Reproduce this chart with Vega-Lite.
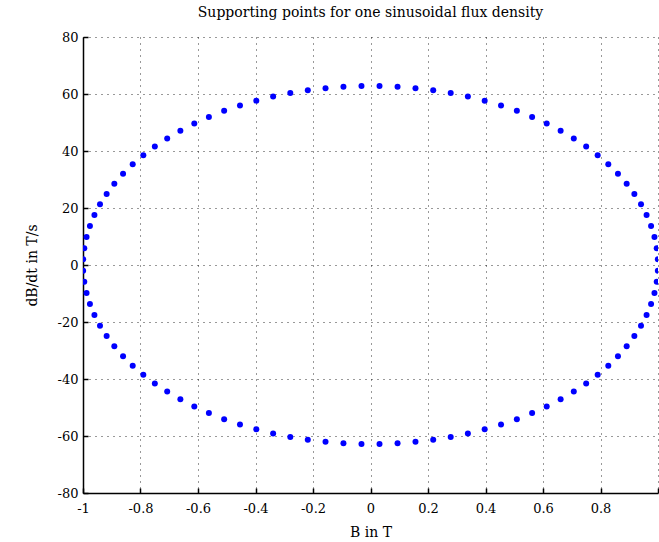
{
  "$schema": "https://vega.github.io/schema/vega-lite/v6.json",
  "width": 575,
  "height": 456,
  "autosize": {"type": "none"},
  "padding": {"left": 83, "top": 37, "right": 1, "bottom": 49},
  "background": "white",
  "config": {
    "view": {"stroke": null},
    "font": "DejaVu Serif"
  },
  "title": {
    "text": "Supporting points for one sinusoidal flux density",
    "font": "DejaVu Serif",
    "fontSize": 14,
    "fontWeight": "normal",
    "color": "#000",
    "offset": 11
  },
  "datasets": {
    "pts": [
      {"B": 0.99951, "dBdt": 1.974}, {"B": 0.99556, "dBdt": 5.913}, {"B": 0.98769, "dBdt": 9.829}, {"B": 0.97592, "dBdt": 13.706}, {"B": 0.96029, "dBdt": 17.529},
      {"B": 0.94088, "dBdt": 21.284}, {"B": 0.91775, "dBdt": 24.954}, {"B": 0.89101, "dBdt": 28.525}, {"B": 0.86074, "dBdt": 31.984}, {"B": 0.82708, "dBdt": 35.316},
      {"B": 0.79016, "dBdt": 38.51}, {"B": 0.75011, "dBdt": 41.551}, {"B": 0.70711, "dBdt": 44.429}, {"B": 0.66131, "dBdt": 47.131}, {"B": 0.61291, "dBdt": 49.647},
      {"B": 0.56208, "dBdt": 51.967}, {"B": 0.50904, "dBdt": 54.082}, {"B": 0.45399, "dBdt": 55.984}, {"B": 0.39715, "dBdt": 57.664}, {"B": 0.33874, "dBdt": 59.117},
      {"B": 0.27899, "dBdt": 60.337}, {"B": 0.21814, "dBdt": 61.319}, {"B": 0.15643, "dBdt": 62.059}, {"B": 0.09411, "dBdt": 62.553}, {"B": 0.03141, "dBdt": 62.801},
      {"B": -0.99951, "dBdt": 1.974}, {"B": -0.99556, "dBdt": 5.913}, {"B": -0.98769, "dBdt": 9.829}, {"B": -0.97592, "dBdt": 13.706}, {"B": -0.96029, "dBdt": 17.529},
      {"B": -0.94088, "dBdt": 21.284}, {"B": -0.91775, "dBdt": 24.954}, {"B": -0.89101, "dBdt": 28.525}, {"B": -0.86074, "dBdt": 31.984}, {"B": -0.82708, "dBdt": 35.316},
      {"B": -0.79016, "dBdt": 38.51}, {"B": -0.75011, "dBdt": 41.551}, {"B": -0.70711, "dBdt": 44.429}, {"B": -0.66131, "dBdt": 47.131}, {"B": -0.61291, "dBdt": 49.647},
      {"B": -0.56208, "dBdt": 51.967}, {"B": -0.50904, "dBdt": 54.082}, {"B": -0.45399, "dBdt": 55.984}, {"B": -0.39715, "dBdt": 57.664}, {"B": -0.33874, "dBdt": 59.117},
      {"B": -0.27899, "dBdt": 60.337}, {"B": -0.21814, "dBdt": 61.319}, {"B": -0.15643, "dBdt": 62.059}, {"B": -0.09411, "dBdt": 62.553}, {"B": -0.03141, "dBdt": 62.801},
      {"B": 0.99951, "dBdt": -1.974}, {"B": 0.99556, "dBdt": -5.913}, {"B": 0.98769, "dBdt": -9.829}, {"B": 0.97592, "dBdt": -13.706}, {"B": 0.96029, "dBdt": -17.529},
      {"B": 0.94088, "dBdt": -21.284}, {"B": 0.91775, "dBdt": -24.954}, {"B": 0.89101, "dBdt": -28.525}, {"B": 0.86074, "dBdt": -31.984}, {"B": 0.82708, "dBdt": -35.316},
      {"B": 0.79016, "dBdt": -38.51}, {"B": 0.75011, "dBdt": -41.551}, {"B": 0.70711, "dBdt": -44.429}, {"B": 0.66131, "dBdt": -47.131}, {"B": 0.61291, "dBdt": -49.647},
      {"B": 0.56208, "dBdt": -51.967}, {"B": 0.50904, "dBdt": -54.082}, {"B": 0.45399, "dBdt": -55.984}, {"B": 0.39715, "dBdt": -57.664}, {"B": 0.33874, "dBdt": -59.117},
      {"B": 0.27899, "dBdt": -60.337}, {"B": 0.21814, "dBdt": -61.319}, {"B": 0.15643, "dBdt": -62.059}, {"B": 0.09411, "dBdt": -62.553}, {"B": 0.03141, "dBdt": -62.801},
      {"B": -0.99951, "dBdt": -1.974}, {"B": -0.99556, "dBdt": -5.913}, {"B": -0.98769, "dBdt": -9.829}, {"B": -0.97592, "dBdt": -13.706}, {"B": -0.96029, "dBdt": -17.529},
      {"B": -0.94088, "dBdt": -21.284}, {"B": -0.91775, "dBdt": -24.954}, {"B": -0.89101, "dBdt": -28.525}, {"B": -0.86074, "dBdt": -31.984}, {"B": -0.82708, "dBdt": -35.316},
      {"B": -0.79016, "dBdt": -38.51}, {"B": -0.75011, "dBdt": -41.551}, {"B": -0.70711, "dBdt": -44.429}, {"B": -0.66131, "dBdt": -47.131}, {"B": -0.61291, "dBdt": -49.647},
      {"B": -0.56208, "dBdt": -51.967}, {"B": -0.50904, "dBdt": -54.082}, {"B": -0.45399, "dBdt": -55.984}, {"B": -0.39715, "dBdt": -57.664}, {"B": -0.33874, "dBdt": -59.117},
      {"B": -0.27899, "dBdt": -60.337}, {"B": -0.21814, "dBdt": -61.319}, {"B": -0.15643, "dBdt": -62.059}, {"B": -0.09411, "dBdt": -62.553}, {"B": -0.03141, "dBdt": -62.801}
    ]
  },
  "data": {"name": "pts"},
  "mark": {"type": "point", "filled": true, "color": "#0000ff", "opacity": 1, "size": 36, "clip": true},
  "encoding": {
    "x": {
      "field": "B",
      "type": "quantitative",
      "scale": {"domain": [-1, 1], "nice": false, "zero": false},
      "axis": {
        "title": "B in T",
        "values": [-1, -0.8, -0.6, -0.4, -0.2, 0, 0.2, 0.4, 0.6, 0.8, 1],
        "labelExpr": "datum.value == 1 ? '' : '' + datum.value",
        "labelFont": "DejaVu Serif",
        "labelFontSize": 13,
        "labelColor": "#000",
        "labelPadding": 14,
        "labelFlush": false,
        "labelOverlap": false,
        "tickSize": -5,
        "tickColor": "#000",
        "tickWidth": 1.5,
        "domainColor": "#000",
        "domainWidth": 1.5,
        "grid": true,
        "gridColor": "#000",
        "gridDash": [1, 5],
        "gridOpacity": 0.8,
        "gridWidth": 1,
        "titleFont": "DejaVu Serif",
        "titleFontSize": 14,
        "titleFontWeight": "normal",
        "titleColor": "#000",
        "titlePadding": 10
      }
    },
    "y": {
      "field": "dBdt",
      "type": "quantitative",
      "scale": {"domain": [-80, 80], "nice": false, "zero": false},
      "axis": {
        "title": "dB/dt in T/s",
        "values": [-80, -60, -40, -20, 0, 20, 40, 60, 80],
        "labelExpr": "'' + datum.value",
        "labelFont": "DejaVu Serif",
        "labelFontSize": 13,
        "labelColor": "#000",
        "labelPadding": 10,
        "tickSize": -5,
        "tickColor": "#000",
        "tickWidth": 1.5,
        "domainColor": "#000",
        "domainWidth": 1.5,
        "grid": true,
        "gridColor": "#000",
        "gridDash": [1, 5],
        "gridOpacity": 0.8,
        "gridWidth": 1,
        "titleFont": "DejaVu Serif",
        "titleFontSize": 14,
        "titleFontWeight": "normal",
        "titleColor": "#000",
        "titlePadding": 18
      }
    }
  }
}
